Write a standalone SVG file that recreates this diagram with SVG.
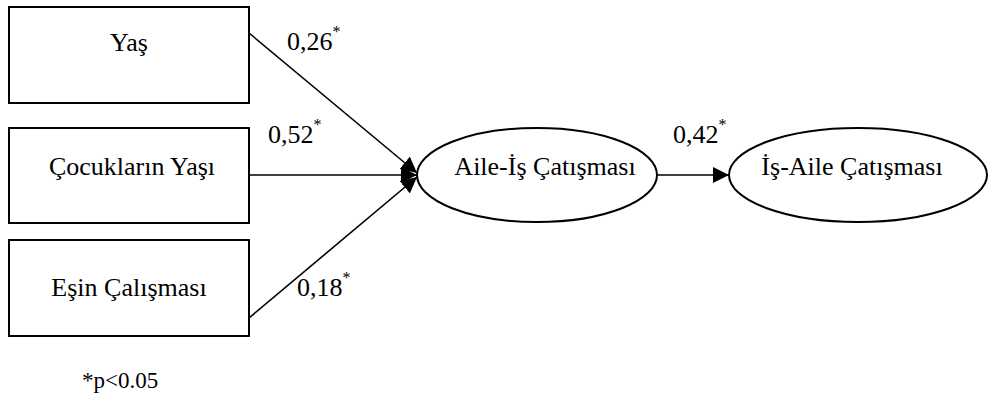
<svg xmlns="http://www.w3.org/2000/svg" width="989" height="399" viewBox="0 0 989 399">
  <style>
    .box { fill: #fff; stroke: #000; stroke-width: 2; }
    .oval { fill: #fff; stroke: #000; stroke-width: 2; }
    .label { font-family: "Liberation Serif", "Times New Roman", serif; font-size: 26px; fill: #000; }
    .mid { text-anchor: middle; }
    .sup { font-size: 16px; }
    .edge { stroke: #000; stroke-width: 1.6; fill: none; marker-end: url(#arrow); }
  </style>
  <defs>
    <marker id="arrow" markerUnits="userSpaceOnUse" markerWidth="17" markerHeight="16" refX="16" refY="8" orient="auto">
      <path d="M0,0 L16,8 L0,16 z" fill="#000"/>
    </marker>
  </defs>
  <rect width="989" height="399" fill="#fff"/>

  <g id="edges">
    <line class="edge" x1="249" y1="33" x2="417" y2="173"/>
    <line class="edge" x1="249" y1="175" x2="417" y2="175"/>
    <line class="edge" x1="249" y1="318" x2="417" y2="177"/>
    <line class="edge" x1="657" y1="175" x2="729" y2="175"/>
  </g>

  <g id="node-yas">
    <rect class="box" x="9" y="7" width="240" height="96"/>
    <text class="label mid" x="129" y="51">Yaş</text>
  </g>
  <g id="node-cocuk-yasi">
    <rect class="box" x="9" y="128" width="240" height="95"/>
    <text class="label mid" x="132" y="175">Çocukların Yaşı</text>
  </g>
  <g id="node-es-calisma">
    <rect class="box" x="9" y="240" width="240" height="96"/>
    <text class="label mid" x="129" y="296">Eşin Çalışması</text>
  </g>
  <g id="node-aile-is">
    <ellipse class="oval" cx="537" cy="175" rx="120" ry="47"/>
    <text class="label mid" x="545" y="175">Aile-İş Çatışması</text>
  </g>
  <g id="node-is-aile">
    <ellipse class="oval" cx="858" cy="175" rx="129" ry="47"/>
    <text class="label mid" x="852" y="175">İş-Aile Çatışması</text>
  </g>

  <g id="coefficients">
    <text class="label" x="287" y="50">0,26<tspan class="sup" dy="-13">*</tspan></text>
    <text class="label" x="268" y="143">0,52<tspan class="sup" dy="-13">*</tspan></text>
    <text class="label" x="297" y="296">0,18<tspan class="sup" dy="-13">*</tspan></text>
    <text class="label" x="673" y="143">0,42<tspan class="sup" dy="-13">*</tspan></text>
    <text class="label" x="82" y="388" style="font-size:23px">*p&lt;0.05</text>
  </g>
</svg>
